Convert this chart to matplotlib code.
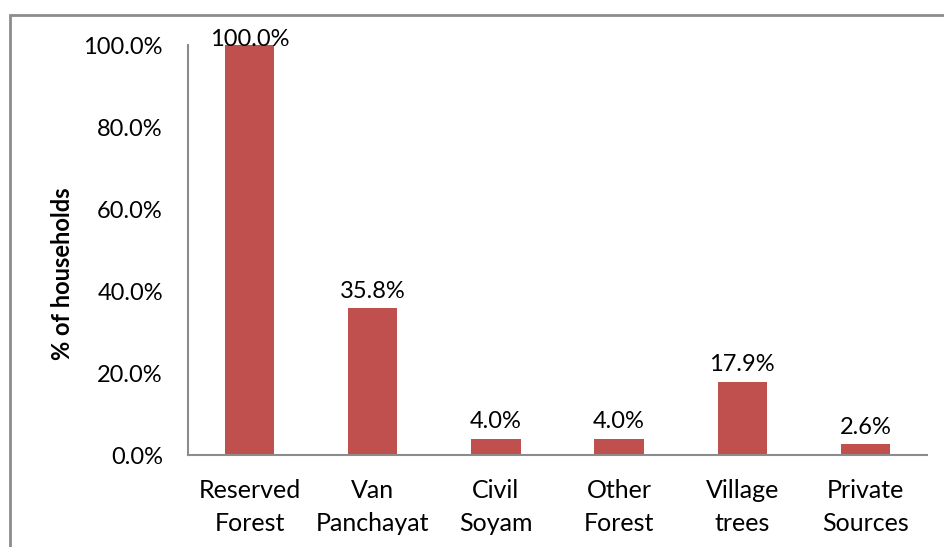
import matplotlib.pyplot as plt
from matplotlib.patches import Rectangle
from matplotlib.ticker import FuncFormatter

categories = ['Reserved\nForest', 'Van\nPanchayat', 'Civil\nSoyam',
              'Other\nForest', 'Village\ntrees', 'Private\nSources']
values = [100.0, 35.8, 4.0, 4.0, 17.9, 2.6]
yticks = [0, 20, 40, 60, 80, 100]

plt.rcParams['font.family'] = ['Lato', 'DejaVu Sans']
plt.rcParams['font.size'] = 17

fig = plt.figure(figsize=(9.44, 5.47), dpi=100)

# outer frame (only top and left visible in the original)
fig.patches.append(Rectangle((10 / 944, -0.1), 1.2, 1 - 15 / 547 + 0.1,
                             transform=fig.transFigure, fill=False,
                             edgecolor='#8c8c8c', linewidth=2))

ax = fig.add_axes([188 / 944, 1 - 455 / 547, (927 - 188) / 944, (455 - 45) / 547])
x = range(len(categories))
ax.bar(x, values, width=0.4, color='#C0504D')

# labels kept inside the plot area, like the original
for xi, v in zip(x, values):
    ax.text(xi, min(v + 1.5, 98.8), '%.1f%%' % v, ha='center', va='bottom',
            fontsize=17, clip_on=False)

ax.set_xlim(-0.5, len(categories) - 0.5)
ax.set_ylim(0, 100)
ax.set_yticks(yticks)
ax.yaxis.set_major_formatter(FuncFormatter(lambda v, p: '%.1f%%' % v))
ax.set_xticks(list(x))
ax.set_xticklabels(categories, linespacing=1.55)
ax.tick_params(axis='x', length=0, pad=17, labelsize=18)
ax.tick_params(axis='y', length=0, pad=18)

for s in ['top', 'right']:
    ax.spines[s].set_visible(False)
for s in ['left', 'bottom']:
    ax.spines[s].set_color('#8c8c8c')
    ax.spines[s].set_linewidth(1.5)

ax.set_ylabel('% of households', fontweight='bold', fontsize=17)
ax.yaxis.set_label_coords(62 / 944, 0.5, transform=fig.transFigure)
ax.yaxis.label.set_verticalalignment('center')

fig.savefig('out.png', dpi=100)
